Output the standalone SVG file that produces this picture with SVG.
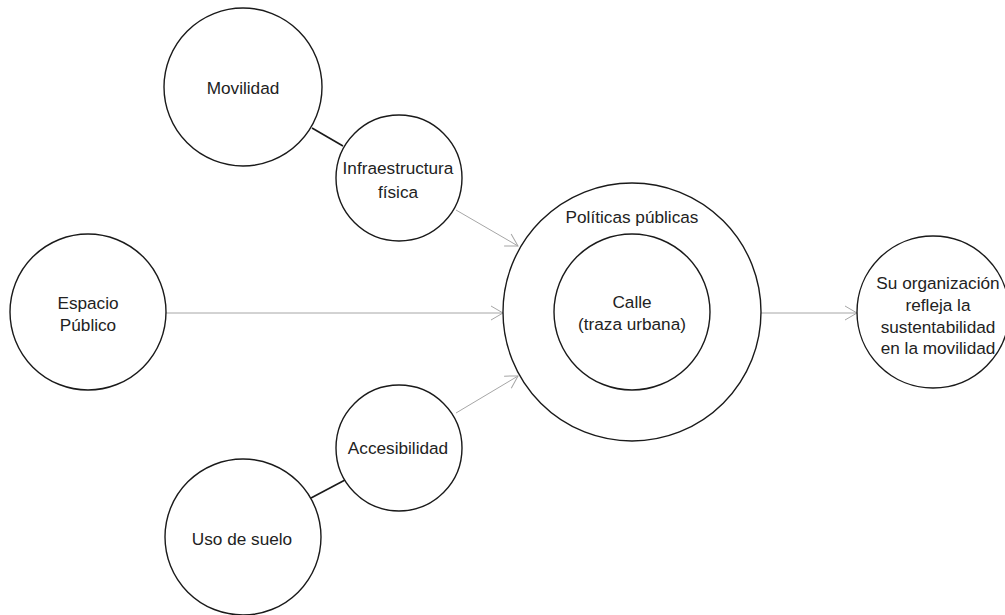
<svg xmlns="http://www.w3.org/2000/svg" width="1005" height="615" viewBox="0 0 1005 615">
  <style>
    .node circle { fill: #fff; stroke: #1a1a1a; stroke-width: 1.4; }
    .lbl { font-family: "Liberation Sans", Arial, sans-serif; font-size: 17.2px; fill: #222; text-anchor: middle; }
    .link { stroke: #1a1a1a; stroke-width: 1.6; fill: none; }
    .flow { stroke: #a6a6a6; stroke-width: 1; fill: none; marker-end: url(#open); }
  </style>
  <defs>
    <marker id="open" viewBox="0 0 14 16" refX="13" refY="8" markerWidth="14" markerHeight="16" markerUnits="userSpaceOnUse" orient="auto">
      <path d="M1,1 L13,8 L1,15" fill="none" stroke="#a6a6a6" stroke-width="1"/>
    </marker>
  </defs>
  <rect width="1005" height="615" fill="#fff"/>

  <g id="connectors">
    <line class="link" x1="312" y1="128" x2="343" y2="146"/>
    <line class="link" x1="311" y1="498" x2="345" y2="480"/>
    <line class="flow" x1="456" y1="210" x2="518" y2="246"/>
    <line class="flow" x1="166" y1="313" x2="503" y2="313"/>
    <line class="flow" x1="456" y1="413" x2="518" y2="376"/>
    <line class="flow" x1="761" y1="313" x2="857" y2="313"/>
  </g>

  <g id="movilidad" class="node">
    <circle cx="243" cy="87" r="79"/>
    <text class="lbl" x="243" y="94">Movilidad</text>
  </g>

  <g id="infraestructura" class="node">
    <circle cx="399" cy="178" r="63"/>
    <text class="lbl" x="398" y="174">Infraestructura</text>
    <text class="lbl" x="398" y="198">física</text>
  </g>

  <g id="espacio-publico" class="node">
    <circle cx="88" cy="312" r="78"/>
    <text class="lbl" x="88" y="309">Espacio</text>
    <text class="lbl" x="88" y="331">Público</text>
  </g>

  <g id="accesibilidad" class="node">
    <circle cx="399" cy="448" r="63"/>
    <text class="lbl" x="398" y="454">Accesibilidad</text>
  </g>

  <g id="uso-de-suelo" class="node">
    <circle cx="243" cy="537" r="78"/>
    <text class="lbl" x="242" y="545">Uso de suelo</text>
  </g>

  <g id="politicas-publicas" class="node">
    <circle cx="632" cy="312" r="129"/>
    <text class="lbl" x="632" y="223">Políticas públicas</text>
  </g>

  <g id="calle" class="node">
    <circle cx="632" cy="312" r="78"/>
    <text class="lbl" x="632" y="308">Calle</text>
    <text class="lbl" x="632" y="330">(traza urbana)</text>
  </g>

  <g id="sustentabilidad" class="node">
    <circle cx="933" cy="312" r="76"/>
    <text class="lbl" x="938" y="289">Su organización</text>
    <text class="lbl" x="938" y="311">refleja la</text>
    <text class="lbl" x="938" y="333">sustentabilidad</text>
    <text class="lbl" x="938" y="354">en la movilidad</text>
  </g>
</svg>
